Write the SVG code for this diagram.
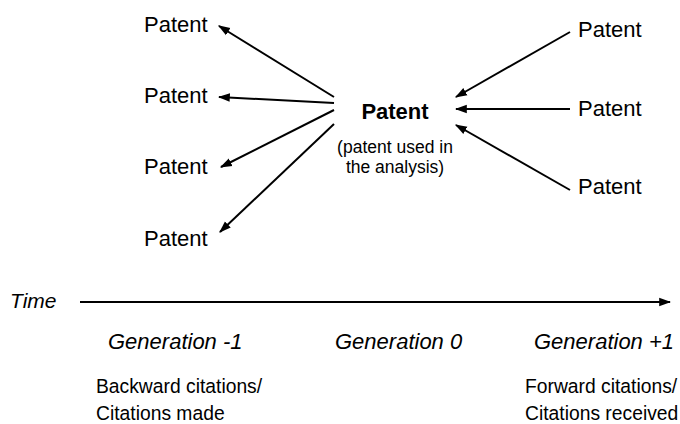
<svg xmlns="http://www.w3.org/2000/svg" width="680" height="424" viewBox="0 0 680 424">
<defs>
<marker id="ah2" viewBox="0 0 10 10" refX="9" refY="5" markerWidth="12" markerHeight="12" orient="auto" markerUnits="userSpaceOnUse">
<path d="M0,1.5 L10,5 L0,8.5 z" fill="#000"/>
</marker>
<style>
text{font-family:"Liberation Sans",Arial,sans-serif;fill:#000}
.p{font-size:22px}
.b{font-size:22px;font-weight:bold}
.s{font-size:17.5px}
.i{font-size:22px;font-style:italic}
.t{font-size:21px;font-style:italic}
.l{font-size:19.3px}
.c{stroke:#000;stroke-width:2;fill:none;marker-end:url(#ah2)}
</style>
</defs>
<rect width="680" height="424" fill="#fff"/>
<g id="connectors">
<line class="c" x1="334" y1="97" x2="219" y2="26"/>
<line class="c" x1="334" y1="103" x2="219" y2="97"/>
<line class="c" x1="334" y1="110" x2="221" y2="167"/>
<line class="c" x1="334" y1="124" x2="220" y2="232"/>
<line class="c" x1="570" y1="32" x2="456" y2="97"/>
<line class="c" x1="570" y1="109" x2="456" y2="109"/>
<line class="c" x1="570" y1="190" x2="456" y2="125"/>
<line class="c" x1="80" y1="302" x2="670" y2="302"/>
</g>
<g id="left1"><text class="p" x="144" y="32">Patent</text></g>
<g id="left2"><text class="p" x="144" y="103">Patent</text></g>
<g id="left3"><text class="p" x="144" y="174">Patent</text></g>
<g id="left4"><text class="p" x="144" y="246">Patent</text></g>
<g id="center">
<text class="b" x="395" y="119" text-anchor="middle">Patent</text>
<text class="s" x="395" y="153" text-anchor="middle">(patent used in</text>
<text class="s" x="395" y="173" text-anchor="middle">the analysis)</text>
</g>
<g id="right1"><text class="p" x="578" y="37">Patent</text></g>
<g id="right2"><text class="p" x="578" y="116">Patent</text></g>
<g id="right3"><text class="p" x="578" y="194">Patent</text></g>
<g id="axis">
<text class="t" x="10" y="308">Time</text>
<text class="i" x="108" y="349">Generation -1</text>
<text class="i" x="335" y="349">Generation 0</text>
<text class="i" x="534" y="349">Generation +1</text>
<text class="l" x="96" y="393">Backward citations/</text>
<text class="l" x="96" y="420">Citations made</text>
<text class="l" x="525" y="393">Forward citations/</text>
<text class="l" x="525" y="420">Citations received</text>
</g>
</svg>
